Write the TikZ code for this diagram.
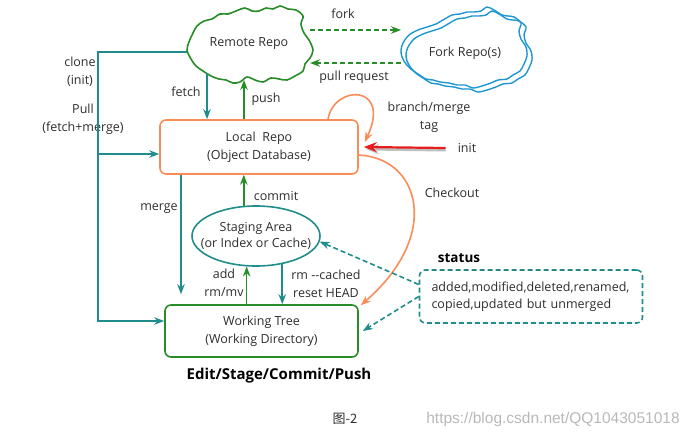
\documentclass[tikz,border=0pt]{standalone}
\usepackage{fontspec}
\setmainfont{Open Sans}
\newfontfamily\cjk{Noto Sans CJK SC}
\newfontfamily\wmfont{Liberation Sans}
\usetikzlibrary{arrows.meta,shapes.geometric}
\definecolor{tealc}{RGB}{32,140,140}
\definecolor{grnc}{RGB}{40,140,40}
\definecolor{orgc}{RGB}{250,140,90}
\definecolor{bluc}{RGB}{30,150,210}
\definecolor{redc}{RGB}{230,30,30}
\definecolor{txtc}{RGB}{45,45,45}
\begin{document}
\begin{tikzpicture}[x=1pt,y=-1pt,
  font=\fontsize{12.5}{18}\selectfont, text=txtc,
  lbl/.style={align=center, inner sep=0pt},
  conn/.style={line width=1.6pt},
  tipa/.style={-{Stealth[length=10pt,width=7.5pt]}},
  dsh/.style={dash pattern=on 5pt off 3pt},
  box/.style={draw, line width=1.6pt, rounded corners=6pt, align=center}]
\useasboundingbox (0,0) rectangle (688,439);
% clouds
\draw[grnc, line width=1.6pt] plot[smooth cycle, tension=0.55] coordinates {
 (187,50) (189,42) (193,33) (197,26) (204,21) (212,19) (220,14) (228,14) (236,11) (245,8) (252,11) (259,11) (266,8) (273,9) (280,6) (288,9) (296,10) (303,16)
 (301,24) (304,33) (309,40) (313,50) (310,58) (305,64) (303,71) (295,76) (287,80) (279,79) (271,78) (263,82) (255,80) (247,77) (240,82) (233,83)
 (226,80) (219,79) (211,76) (203,71) (196,66) (191,59)};
\foreach \s in {(0,0),(5,4)}{
\draw[bluc, line width=1.4pt, shift={\s}] plot[smooth cycle, tension=0.5] coordinates {
 (401,50) (403,43) (409,35) (418,30) (427,27) (436,24) (443,20) (452,15) (460,14) (467,12) (474,12) (481,11) (487,7) (494,10) (502,15) (508,16) (514,17) (521,23)
 (519,31) (521,39) (526,47) (527,56) (524,64) (520,71) (513,75) (507,79) (498,80) (491,83) (482,86) (473,88) (465,85) (457,85) (449,83) (440,82) (433,80) (426,79) (418,74) (412,70) (406,64) (402,57)};
}
\node[lbl] (remote) at (249,44) {Remote Repo};
\node[lbl] (forkrepo) at (465,53) {Fork Repo(s)};
% boxes
\node[box, draw=orgc, minimum width=198pt, minimum height=54pt] (local) at (259,147) {Local~~Repo\\(Object Database)};
\node[box, draw=grnc, minimum width=193pt, minimum height=52pt] (wt) at (261.5,331) {Working Tree\\(Working Directory)};
\node[ellipse, draw=tealc, line width=1.6pt, minimum width=128pt, minimum height=60pt, inner sep=0pt] (stage) at (256,236) {};
\node[lbl, font=\fontsize{12.5}{16.5}\selectfont] (stagetxt) at (stage.center) {Staging Area\\(or Index or Cache)};
\node[draw=tealc, line width=1.6pt, dsh, rounded corners=6pt, text width=199pt, align=left, inner xsep=12pt,
  minimum height=53pt, font=\fontsize{12.5}{17.5}\selectfont] (status) at (531,296.5)
  {added,modified,deleted,renamed,\\copied,updated but unmerged};
\node[lbl, font=\bfseries\fontsize{13.5}{15}\selectfont, text=black] (statlbl) at (459,258) {status};
\node[lbl, font=\bfseries\fontsize{15}{17}\selectfont, text=black] (esc) at (279,376) {Edit/Stage/Commit/Push};
\node[lbl, font=\cjk\fontsize{13}{15}\selectfont] (cap) at (345,419) {图-2};
\node[lbl, font=\wmfont\fontsize{15.5}{17}\selectfont, text=black!28] (wm) at (553,419) {https://blog.csdn.net/QQ1043051018};
% labels
\node[lbl] (lfork) at (343,14) {fork};
\node[lbl] (lpr) at (354,77) {pull request};
\node[lbl] (lclone) at (80,72) {clone\\(init)};
\node[lbl] (lpull) at (83,119) {Pull\\(fetch+merge)};
\node[lbl] (lfetch) at (186,92) {fetch};
\node[lbl] (lpush) at (266,99) {push};
\node[lbl] (lbm) at (429,117) {branch/merge\\tag};
\node[lbl] (linit) at (467,148) {init};
\node[lbl] (lco) at (452,193) {Checkout};
\node[lbl] (lcommit) at (276,196) {commit};
\node[lbl] (lmerge) at (159,209) {merge};
\node[lbl] (ladd) at (224,283) {add\\rm/mv};
\node[lbl] (lrm) at (326,284) {rm -{}-cached\\reset HEAD};
% coordinates
\coordinate (rL) at (187,52);
\coordinate (cc) at (98,52);
\coordinate (pl) at ([yshift=-7pt]local.west);
\coordinate (wl) at ([yshift=10pt]wt.west);
\coordinate (rf) at (207,73);
\coordinate (rp) at (244,80);
\coordinate (fk1) at (310,30);
\coordinate (fk2) at (401,30);
\coordinate (pr1) at (401,63);
\coordinate (pr2) at (310,63);
\coordinate (mg) at (181,0);
% connectors
\draw[tealc, conn, tipa] (rL) -- (cc) |- (wl);
\draw[tealc, conn, tipa] (cc |- pl) -- (pl);
\draw[tealc, conn, tipa] (rf) -- (rf |- local.north);
\draw[grnc, conn, tipa] (rp |- local.north) -- (rp);
\draw[grnc, conn, tipa, dsh] (fk1) -- (fk2);
\draw[grnc, conn, tipa, dsh] (pr1) -- (pr2);
\draw[grnc, conn, tipa] (stage.112) -- (stage.112 |- local.south);
\draw[tealc, conn, tipa, shorten >=10pt] (mg |- local.south) -- (mg |- wt.north);
\draw[grnc, conn, tipa] (stage.253 |- wt.north) -- (stage.253);
\draw[tealc, conn, tipa] (stage.313) -- (stage.313 |- wt.north);
\draw[orgc, conn, tipa] ([xshift=69pt]local.north) .. controls (334,84) and (392,84) .. ([shift={(6pt,5pt)}]local.east);
\draw[orgc, conn, tipa] ([yshift=-8pt]local.east) .. controls (420,158) and (442,235) .. ([shift={(2pt,-1pt)}]wt.north east);
\draw[black!25, line width=3pt, -{Stealth[length=13pt,width=10pt]}] ([shift={(-12pt,-2pt)}]linit.west) -- ([shift={(7pt,-2pt)}]local.east);
\draw[redc, line width=2.2pt, -{Stealth[length=13pt,width=10pt]}] ([xshift=-12pt]linit.west) -- ([xshift=5pt]local.east);
\draw[tealc, conn, dsh, tipa] ([yshift=12pt]status.west) -- (stage.355);
\draw[tealc, conn, dsh, tipa] (status.west) -- ([xshift=4pt]wt.east);
\end{tikzpicture}
\end{document}
